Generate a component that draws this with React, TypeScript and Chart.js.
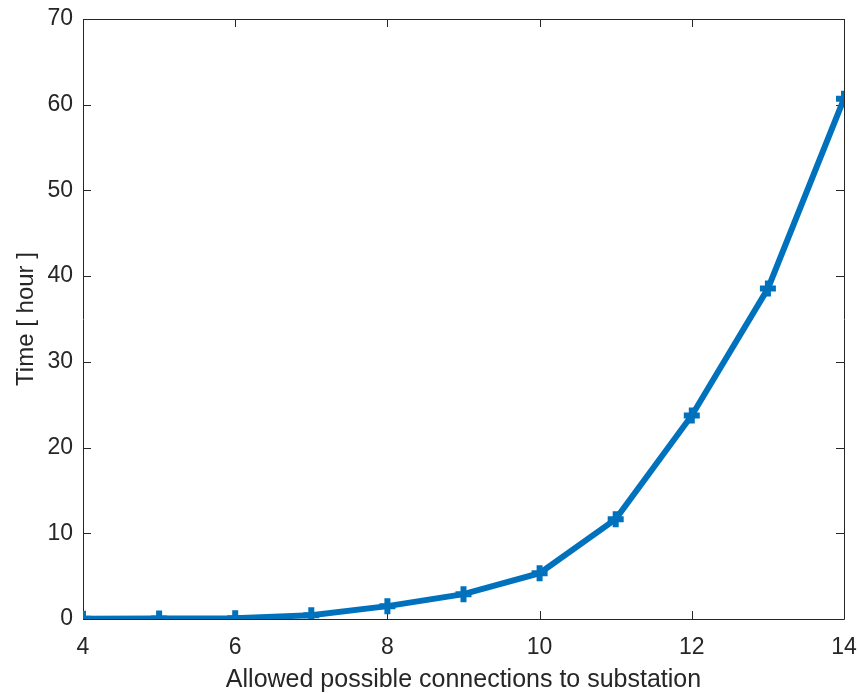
import React, { useEffect, useRef } from "react";
import { Chart, registerables } from "chart.js";

Chart.register(...registerables);

const connections = [4, 5, 6, 7, 8, 9, 10, 11, 12, 13, 14];
const hours = [0.02, 0.05, 0.08, 0.45, 1.5, 2.9, 5.35, 11.65, 23.75, 38.55, 60.7];
const xTicks = [4, 6, 8, 10, 12, 14];
const yTicks = [0, 10, 20, 30, 40, 50, 60, 70];
const xTitle = "Allowed possible connections to substation";
const yTitle = "Time [ hour ]";

const AXIS_COLOR = "#262626";
const LINE_COLOR = "#0072BD";
const FONT = "'Liberation Sans', Arial, Helvetica, sans-serif";

const boxPlugin = {
  id: "boxPlugin",
  beforeDatasetsDraw(chart: any) {
    const { ctx, chartArea, scales } = chart;
    const { left, right, top, bottom } = chartArea;
    ctx.save();
    ctx.strokeStyle = AXIS_COLOR;
    ctx.lineWidth = 1;
    ctx.beginPath();
    ctx.rect(left + 0.5, top + 0.5, right - left, bottom - top);
    ctx.stroke();
    const tl = 8;
    ctx.beginPath();
    xTicks.forEach((v) => {
      const x = Math.round(scales.x.getPixelForValue(v)) + 0.5;
      ctx.moveTo(x, bottom);
      ctx.lineTo(x, bottom - tl);
      ctx.moveTo(x, top);
      ctx.lineTo(x, top + tl);
    });
    yTicks.forEach((v) => {
      const y = Math.round(scales.y.getPixelForValue(v)) + 0.5;
      ctx.moveTo(left, y);
      ctx.lineTo(left + tl, y);
      ctx.moveTo(right, y);
      ctx.lineTo(right - tl, y);
    });
    ctx.stroke();
    ctx.restore();
  },
};

export default function App() {
  const ref = useRef<HTMLCanvasElement | null>(null);
  useEffect(() => {
    document.body.style.margin = "0";
    const canvas = ref.current;
    if (!canvas) return;
    const chart = new Chart(canvas, {
      type: "line",
      data: {
        datasets: [
          {
            data: connections.map((c, i) => ({ x: c, y: hours[i] })),
            borderColor: LINE_COLOR,
            backgroundColor: LINE_COLOR,
            borderWidth: 6,
            pointStyle: "cross",
            pointRadius: 8,
            pointBorderWidth: 6,
            pointBorderColor: LINE_COLOR,
            tension: 0,
          },
        ],
      },
      options: {
        animation: false,
        responsive: false,
        maintainAspectRatio: false,
        layout: { padding: { top: 19, right: 15, left: 0, bottom: 0 } },
        plugins: { legend: { display: false }, tooltip: { enabled: false } },
        scales: {
          x: {
            type: "linear",
            min: 4,
            max: 14,
            afterBuildTicks: (s: any) => {
              s.ticks = xTicks.map((v) => ({ value: v }));
            },
            afterFit: (s: any) => {
              s.height = 74;
              s.paddingLeft = 0;
              s.paddingRight = 0;
            },
            grid: { display: false, drawTicks: false },
            border: { display: false },
            ticks: {
              color: AXIS_COLOR,
              font: { family: FONT, size: 23 },
              padding: 15,
              maxRotation: 0,
              autoSkip: false,
            },
            title: {
              display: true,
              text: xTitle,
              color: AXIS_COLOR,
              font: { family: FONT, size: 25 },
              padding: { top: 0, bottom: -2 },
            },
          },
          y: {
            type: "linear",
            min: 0,
            max: 70,
            afterBuildTicks: (s: any) => {
              s.ticks = yTicks.map((v) => ({ value: v }));
            },
            afterFit: (s: any) => {
              s.width = 83;
              s.paddingTop = 0;
              s.paddingBottom = 0;
            },
            grid: { display: false, drawTicks: false },
            border: { display: false },
            ticks: {
              color: AXIS_COLOR,
              font: { family: FONT, size: 23 },
              padding: 10,
              autoSkip: false,
            },
            title: {
              display: true,
              text: yTitle,
              color: AXIS_COLOR,
              font: { family: FONT, size: 24 },
              padding: { top: 12, bottom: 0 },
            },
          },
        },
      },
      plugins: [boxPlugin],
    });
    return () => chart.destroy();
  }, []);
  return (
    <div style={{ position: "absolute", left: 0, top: 0, width: 859, height: 693, background: "#fff" }}>
      <canvas ref={ref} width={859} height={693} style={{ width: 859, height: 693 }} />
    </div>
  );
}
